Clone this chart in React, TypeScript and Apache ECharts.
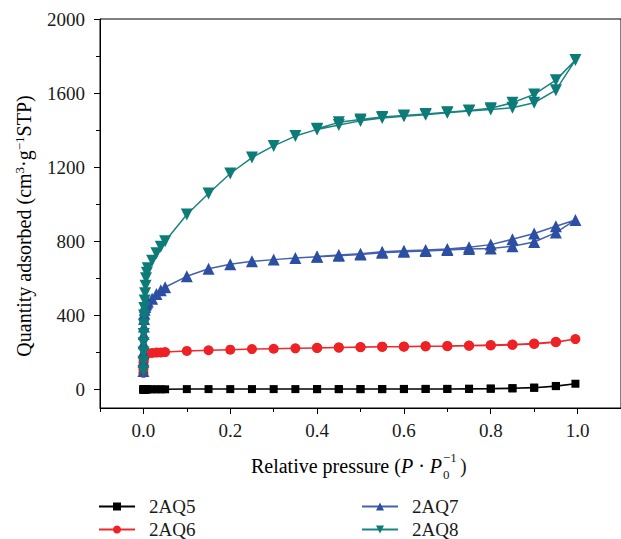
import React, { useEffect, useRef } from "react";
import * as echarts from "echarts";

// Relative pressure points (adsorption branch, shared by all samples)
const pAds = [
  0.00002, 0.0001, 0.0002, 0.0004, 0.0007, 0.001, 0.0015, 0.002, 0.003, 0.004,
  0.005, 0.006, 0.008, 0.01, 0.02, 0.03, 0.04, 0.05, 0.1, 0.15, 0.2, 0.25, 0.3,
  0.35, 0.4, 0.45, 0.5, 0.55, 0.6, 0.65, 0.7, 0.75, 0.8, 0.85, 0.9, 0.95, 0.995,
];
// Desorption branch pressures
const pDes = [0.95, 0.9, 0.85, 0.8, 0.75, 0.7, 0.65, 0.6, 0.55, 0.5, 0.45, 0.4];

const ads2AQ5 = [
  0, 0, 0, 0, 0, 0, 1, 1, 1, 1, 1, 1, 1, 1, 1, 1, 1, 1, 2, 2, 2, 2, 2, 2, 2, 2,
  2, 2, 2, 3, 3, 3, 4, 6, 9, 18, 31,
];
const des2AQ5 = [19, 10, 7, 5, 4, 3, 3, 3, 2, 2, 2, 2];

const ads2AQ6 = [
  90, 110, 130, 145, 158, 168, 175, 180, 184, 187, 189, 191, 193, 195, 197, 199,
  200, 202, 208, 212, 215, 218, 220, 222, 224, 226, 228, 230, 231, 233, 234, 236,
  238, 241, 246, 255, 272,
];
const des2AQ6 = [257, 248, 243, 240, 237, 235, 234, 232, 231, 229, 227, 225];

const ads2AQ7 = [
  100, 150, 200, 250, 300, 340, 380, 410, 430, 445, 455, 462, 468, 475, 490, 515,
  535, 552, 611, 652, 676, 692, 701, 710, 716, 722, 728, 738, 744, 748, 753, 758,
  761, 773, 796, 847, 915,
];
const des2AQ7 = [881, 842, 811, 782, 768, 759, 753, 749, 743, 733, 726, 718];

const ads2AQ8 = [
  100, 150, 200, 250, 300, 350, 400, 440, 480, 520, 560, 600, 630, 655, 695, 735,
  770, 800, 945, 1058, 1166, 1252, 1315, 1368, 1404, 1428, 1450, 1465, 1475, 1483,
  1494, 1503, 1512, 1521, 1548, 1616, 1778,
];
const des2AQ8 = [1670, 1593, 1548, 1518, 1506, 1497, 1487, 1479, 1471, 1458, 1442, 1408];

const names = ["2AQ5", "2AQ6", "2AQ7", "2AQ8"];
const colors = ["#000000", "#ee2124", "#2c4ea3", "#0d7b77"];
const lineColors = ["#000000", "#ee2a2f", "#4461ad", "#1a8380"];

const yLabelValues = [0, 400, 800, 1200, 1600, 2000];
const yMinorValues = [200, 600, 1000, 1400, 1800];
const xLabelValues = [0, 0.2, 0.4, 0.6, 0.8, 1.0];
const xMinorValues = [-0.1, 0.1, 0.3, 0.5, 0.7, 0.9];

const FONT = "Liberation Serif";
const TEXT = "#1a1a1a";

function pairs(ads: number[], des: number[]) {
  const out: number[][] = ads.map((v, i) => [pAds[i], v]);
  des.forEach((v, i) => out.push([pDes[i], v]));
  return out;
}

export default function App() {
  const ref = useRef<HTMLDivElement>(null);
  useEffect(() => {
    if (!ref.current) return;
    const chart = echarts.init(ref.current, undefined, { renderer: "svg" });
    const seriesData = [
      pairs(ads2AQ5, des2AQ5),
      pairs(ads2AQ6, des2AQ6),
      pairs(ads2AQ7, des2AQ7),
      pairs(ads2AQ8, des2AQ8),
    ];
    const symbols = ["rect", "circle", "triangle", "triangle"];
    const sizes = [8, 10, 12, 12];
    const rotates = [0, 0, 0, 180];
    const legendPos = [
      [98, 497],
      [98, 520],
      [361, 497],
      [361, 520],
    ];

    const axisLine = { show: true, onZero: false, lineStyle: { color: "#000", width: 1 } };

    chart.setOption({
      animation: false,
      backgroundColor: "#fff",
      grid: {
        left: 100,
        top: 19,
        width: 522,
        height: 389,
        show: true,
        borderColor: "#000",
        borderWidth: 1,
        backgroundColor: "transparent",
      },
      xAxis: [
        {
          type: "value",
          min: -0.1,
          max: 1.1,
          position: "bottom",
          axisLine,
          splitLine: { show: false },
          axisTick: { show: true, length: 6, customValues: xLabelValues, lineStyle: { color: "#000" } },
          axisLabel: {
            customValues: xLabelValues,
            formatter: (v: number) => v.toFixed(1),
            fontFamily: FONT,
            fontSize: 19,
            color: TEXT,
            margin: 13,
          },
        },
        {
          type: "value",
          min: -0.1,
          max: 1.1,
          position: "bottom",
          axisLine: { show: false, onZero: false },
          splitLine: { show: false },
          axisLabel: { show: false },
          axisTick: { show: true, length: 4, customValues: xMinorValues, lineStyle: { color: "#000" } },
        },
      ],
      yAxis: [
        {
          type: "value",
          min: -100,
          max: 2000,
          position: "left",
          axisLine,
          splitLine: { show: false },
          axisTick: { show: true, length: 6, customValues: yLabelValues, lineStyle: { color: "#000" } },
          axisLabel: {
            customValues: yLabelValues,
            formatter: (v: number) => String(v),
            fontFamily: FONT,
            fontSize: 19,
            color: TEXT,
            margin: 15,
          },
        },
        {
          type: "value",
          min: -100,
          max: 2000,
          position: "left",
          axisLine: { show: false, onZero: false },
          splitLine: { show: false },
          axisLabel: { show: false },
          axisTick: { show: true, length: 4, customValues: yMinorValues, lineStyle: { color: "#000" } },
        },
      ],
      legend: names.map((n, i) => ({
        data: [n],
        left: legendPos[i][0],
        top: legendPos[i][1],
        padding: 0,
        itemWidth: 36,
        itemHeight: 10,
        textStyle: { fontFamily: FONT, fontSize: 19, color: TEXT, padding: [0, 0, 0, 9] },
      })),
      graphic: [
        {
          type: "text",
          x: 24,
          y: 226,
          rotation: Math.PI / 2,
          style: {
            text: "{a|Quantity adsorbed (cm}{s|3}{a|·g}{s|−1}{a|STP)}",
            align: "center",
            verticalAlign: "middle",
            rich: {
              a: { fontFamily: FONT, fontSize: 20, color: TEXT },
              s: { fontFamily: FONT, fontSize: 13, color: TEXT, padding: [0, 0, 9, 0] },
            },
          },
        },
        {
          type: "text",
          x: 442,
          y: 466,
          style: {
            text: "{a|Relative pressure (}{i|P}{a| · }{i|P}",
            align: "right",
            verticalAlign: "middle",
            rich: {
              a: { fontFamily: FONT, fontSize: 20, color: TEXT },
              i: { fontFamily: FONT, fontSize: 20, fontStyle: "italic", color: TEXT },
            },
          },
        },
        {
          type: "text",
          x: 443,
          y: 474,
          style: { text: "0", fontFamily: FONT, fontSize: 13, fill: TEXT, align: "left", verticalAlign: "middle" },
        },
        {
          type: "text",
          x: 443,
          y: 457,
          style: { text: "−1", fontFamily: FONT, fontSize: 13, fill: TEXT, align: "left", verticalAlign: "middle" },
        },
        {
          type: "text",
          x: 460,
          y: 466,
          style: { text: ")", fontFamily: FONT, fontSize: 20, fill: TEXT, align: "left", verticalAlign: "middle" },
        },
      ],
      series: names.map((n, i) => ({
        name: n,
        type: "line",
        xAxisIndex: 0,
        yAxisIndex: 0,
        data: seriesData[i],
        symbol: symbols[i],
        symbolSize: sizes[i],
        symbolRotate: rotates[i],
        showAllSymbol: true,
        lineStyle: { color: lineColors[i], width: 1.5 },
        itemStyle: { color: colors[i] },
        z: 2 + i,
      })),
    });
    return () => chart.dispose();
  }, []);
  return (
    <div
      ref={ref}
      style={{ position: "fixed", left: 0, top: 0, width: 621, height: 539, background: "#fff" }}
    />
  );
}
